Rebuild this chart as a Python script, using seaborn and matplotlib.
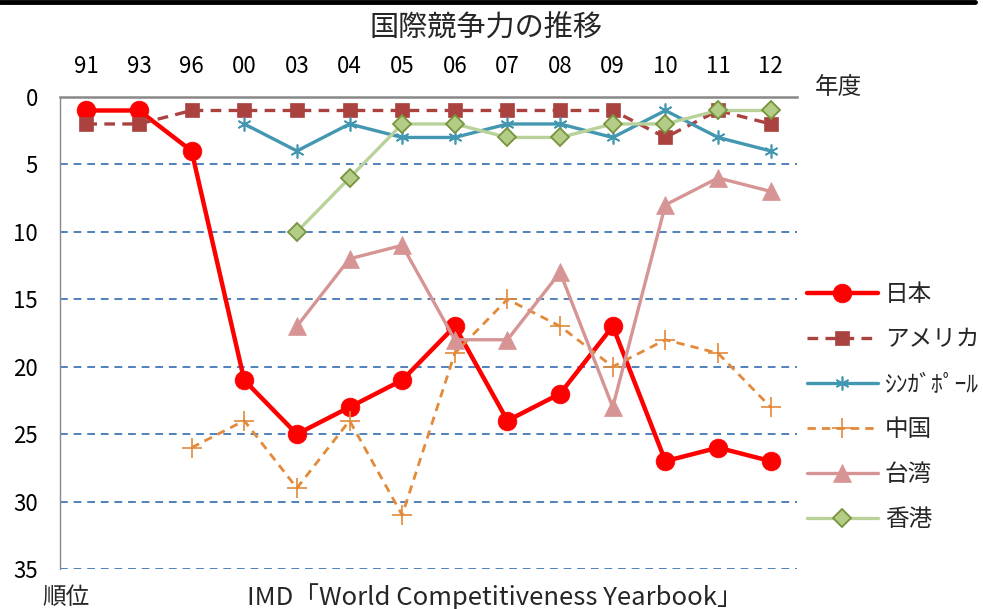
import matplotlib
matplotlib.use("Agg")
import matplotlib.pyplot as plt
import seaborn as sns
import numpy as np
import pandas as pd
from matplotlib.lines import Line2D

# ---- data ----
years = ["91", "93", "96", "00", "03", "04", "05", "06", "07", "08", "09", "10", "11", "12"]
japan = [1, 1, 4, 21, 25, 23, 21, 17, 24, 22, 17, 27, 26, 27]
usa = [2, 2, 1, 1, 1, 1, 1, 1, 1, 1, 1, 3, 1, 2]
singapore_years = ["00", "03", "04", "05", "06", "07", "08", "09", "10", "11", "12"]
singapore = [2, 4, 2, 3, 3, 2, 2, 3, 1, 3, 4]
china_years = ["96", "00", "03", "04", "05", "06", "07", "08", "09", "10", "11", "12"]
china = [26, 24, 29, 24, 31, 19, 15, 17, 20, 18, 19, 23]
taiwan_years = ["03", "04", "05", "06", "07", "08", "09", "10", "11", "12"]
taiwan = [17, 12, 11, 18, 18, 13, 23, 8, 6, 7]
hk_years = ["03", "04", "05", "06", "07", "08", "09", "10", "11", "12"]
hongkong = [10, 6, 2, 2, 3, 3, 2, 2, 1, 1]
names = ["日本", "アメリカ", "ｼﾝｶﾞﾎﾟｰﾙ", "中国", "台湾", "香港"]
yticks = [0, 5, 10, 15, 20, 25, 30, 35]

sns.set_style("white")
plt.rcParams['font.family'] = ['Noto Sans CJK JP', 'DejaVu Sans']

W, H = 983, 609
fig = plt.figure(figsize=(W / 100, H / 100), dpi=100)
ax_l, ax_r, ax_t, ax_b = 60, 797, 97, 569
ax = fig.add_axes([ax_l / W, 1 - ax_b / H, (ax_r - ax_l) / W, (ax_b - ax_t) / H])

def pos(ys):
    return [years.index(y) for y in ys]

series = [
    (names[0], years, japan, dict(color="#FF0000", marker="o", markersize=13.5, linewidth=3.2,
                                   linestyle="-", markerfacecolor="#FF0000", markeredgecolor="#FF0000",
                                   markeredgewidth=0.5)),
    (names[1], years, usa, dict(color="#AA4340", marker="s", markersize=10, linewidth=2.4,
                                 linestyle=(0, (3.2, 2.2)), markerfacecolor="#AA4340",
                                 markeredgecolor="#AA4340", markeredgewidth=0.5)),
    (names[2], singapore_years, singapore, dict(color="#4397B0", marker=(6, 2, 0), markersize=10,
                                                 linewidth=2.4, linestyle="-", markerfacecolor="#4397B0",
                                                 markeredgecolor="#4397B0", markeredgewidth=1.2)),
    (names[3], china_years, china, dict(color="#E3893A", marker="+", markersize=14, linewidth=2.0,
                                         linestyle=(0, (3, 2.2)), markerfacecolor="#E3893A",
                                         markeredgecolor="#E3893A", markeredgewidth=1.2)),
    (names[4], taiwan_years, taiwan, dict(color="#D69594", marker="^", markersize=13, linewidth=2.4,
                                           linestyle="-", markerfacecolor="#D69594",
                                           markeredgecolor="#D69594", markeredgewidth=0.5)),
    (names[5], hk_years, hongkong, dict(color="#B8D29A", marker="D", markersize=9.5, linewidth=2.4,
                                         linestyle="-", markerfacecolor="#B3CC86",
                                         markeredgecolor="#77933C", markeredgewidth=1.3)),
]

for name, ys, vals, st in series:
    df = pd.DataFrame({"x": pos(ys), "rank": vals})
    sns.lineplot(data=df, x="x", y="rank", ax=ax, label=name, zorder=3, **st)

ax.set_xlim(-0.5, len(years) - 0.5)
ax.set_ylim(35, 0)
ax.set_xticks(range(len(years)))
ax.set_xticklabels(years)
ax.xaxis.tick_top()
ax.set_yticks(yticks)
ax.tick_params(axis="x", length=0, pad=13.5, labelsize=16, colors="black")
ax.tick_params(axis="y", length=0, pad=16, labelsize=16, colors="black")
ax.set_xlabel("")
ax.set_ylabel("")

for yv in yticks[1:]:
    ax.axhline(yv, color="#4F81BD", linewidth=1.4, linestyle=(0, (4, 3)), zorder=1)

for s in ["right", "bottom"]:
    ax.spines[s].set_visible(False)
ax.spines["top"].set_color("#888888")
ax.spines["top"].set_linewidth(1.8)
ax.spines["left"].set_color("#888888")
ax.spines["left"].set_linewidth(1.0)

leg = ax.legend(loc="upper left", bbox_to_anchor=(807 / W, 1 - 283 / H), bbox_transform=fig.transFigure,
                frameon=False, fontsize=17, handlelength=3.0, handletextpad=0.3,
                labelspacing=0.93, borderpad=0, borderaxespad=0)

fig.text(486 / W, 1 - 29 / H, "国際競争力の推移", ha="center", va="center", fontsize=21)
fig.text(838 / W, 1 - 87 / H, "年度", ha="center", va="center", fontsize=17)
fig.text(66 / W, 1 - 597 / H, "順位", ha="center", va="center", fontsize=17)
fig.text(495 / W, 1 - 597 / H, "IMD「World Competitiveness Yearbook」", ha="center", va="center", fontsize=18.5)

fig.add_artist(Line2D([0, 975 / W], [1 - 2 / H, 1 - 2 / H], transform=fig.transFigure,
                      color="black", linewidth=3.5))

fig.savefig("out.png", dpi=100)
